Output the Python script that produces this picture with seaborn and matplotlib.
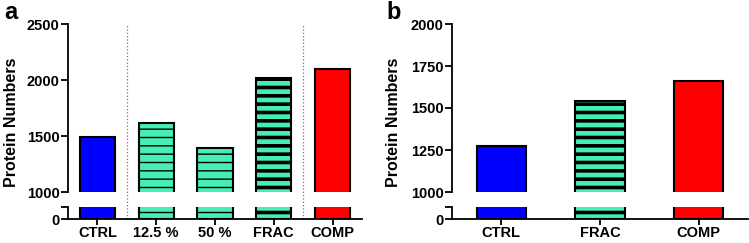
import matplotlib
matplotlib.use("Agg")
import matplotlib.pyplot as plt
import seaborn as sns

# data
cats_a = ["CTRL", "12.5 %", "50 %", "FRAC", "COMP"]
vals_a = [1488, 1618, 1393, 2015, 2095]
cats_b = ["CTRL", "FRAC", "COMP"]
vals_b = [1272, 1540, 1659]

BLUE = "#0000FF"
GREEN = "#45EFB4"
RED = "#FF0000"
colors_a = [BLUE, GREEN, GREEN, GREEN, RED]
colors_b = [BLUE, GREEN, RED]
hatch_a = [None, "--", "--", "--", None]
hatch_b = [None, "--", None]
hatch_lw_a = [1, 1, 1, 2.6, 1]
hatch_lw_b = [1, 2.6, 1]

sns.set_theme(style="ticks")
plt.rcParams["font.family"] = ["Liberation Sans", "DejaVu Sans"]
plt.rcParams["font.weight"] = "bold"
plt.rcParams["axes.linewidth"] = 1.3
plt.rcParams["hatch.color"] = "black"
plt.rcParams["text.color"] = "black"
plt.rcParams["xtick.color"] = "black"
plt.rcParams["ytick.color"] = "black"
plt.rcParams["xtick.labelcolor"] = "black"
plt.rcParams["ytick.labelcolor"] = "black"
plt.rcParams["axes.edgecolor"] = "black"

fig = plt.figure(figsize=(7.49, 2.43), dpi=100)
H = 243.0
W = 749.0


def box(x0, x1, ytop, ybot):
    return [x0 / W, 1 - ybot / H, (x1 - x0) / W, (ybot - ytop) / H]


def draw_bars(ax, cats, vals, colors, hatches, hlws, width):
    sns.barplot(x=cats, y=vals, hue=cats, palette=colors, legend=False,
                ax=ax, width=width, edgecolor="black", linewidth=1.5,
                saturation=1)
    for p, h, lw in zip(ax.patches, hatches, hlws):
        if h:
            p.set_hatch(h)
            if hasattr(p, "set_hatch_linewidth"):
                p.set_hatch_linewidth(lw)


def panel(x0, x1, cats, vals, colors, hatches, hlws, width, ylim, yticks, letter, lx):
    top = fig.add_axes(box(x0, x1, 24, 192))
    low = fig.add_axes(box(x0, x1, 207, 219))
    draw_bars(top, cats, vals, colors, hatches, hlws, width)
    draw_bars(low, cats, vals, colors, hatches, hlws, width)

    top.set_ylim(*ylim)
    top.set_yticks(yticks)
    top.set_yticklabels([str(t) for t in yticks], fontsize=10.5, fontweight="bold")
    top.set_xticks([])
    for s in ["top", "right", "bottom"]:
        top.spines[s].set_visible(False)
    top.tick_params(axis="y", length=5, width=1.3, pad=1)

    low.set_ylim(0, 100)
    low.set_yticks([0, 100])
    low.set_yticklabels(["0", ""], fontsize=10.5, fontweight="bold")
    for s in ["top", "right"]:
        low.spines[s].set_visible(False)
    low.tick_params(axis="y", length=5, width=1.3, pad=1)
    low.tick_params(axis="x", length=4, width=1.3, pad=1)
    low.set_xticks(range(len(cats)))
    low.set_xticklabels(cats, fontsize=10.5, fontweight="bold")

    for ax in (top, low):
        ax.set_xlim(-0.5, len(cats) - 0.5)
        ax.set_xlabel("")
        ax.set_ylabel("")
        ax.set_facecolor("none")

    fig.text(lx, 1 - 122 / H, "Protein Numbers", rotation=90, ha="center",
             va="center", fontsize=11.5, fontweight="bold")
    fig.text(lx - 8 / W, 1 - 1 / H, letter, ha="left", va="top",
             fontsize=17, fontweight="bold")
    return top, low


top_a, low_a = panel(68, 362, cats_a, vals_a, colors_a, hatch_a, hatch_lw_a, 0.6,
                     (1000, 2500), [1000, 1500, 2000, 2500], "a", 12 / W)
top_b, low_b = panel(452, 748, cats_b, vals_b, colors_b, hatch_b, hatch_lw_b, 0.5,
                     (1000, 2000), [1000, 1250, 1500, 1750, 2000], "b", 394 / W)

# dotted separators in panel a, running through the axis break
for xv in [0.5, 3.5]:
    top_a.axvline(xv, ymin=-(219 - 192) / 168.0, ymax=1, clip_on=False,
                  color="#777777", linestyle=":", linewidth=0.9)

fig.savefig("out.png", dpi=100)
